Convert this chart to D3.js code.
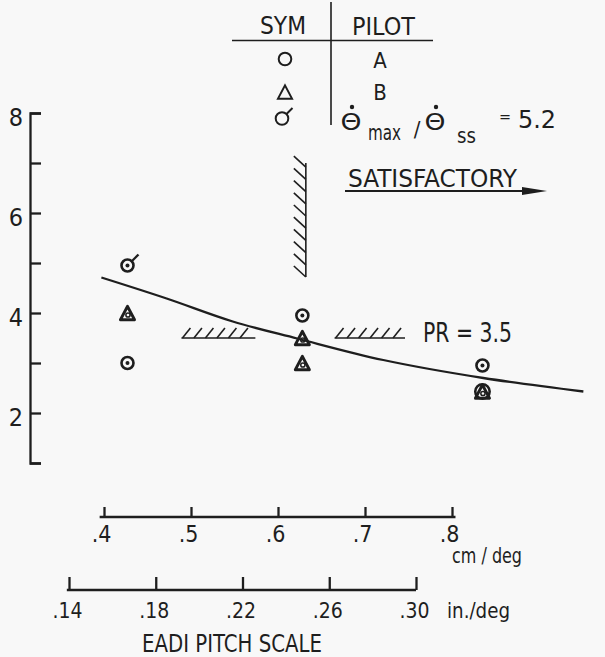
<!DOCTYPE html>
<html><head><meta charset="utf-8">
<script src="https://cdn.jsdelivr.net/npm/d3@7"></script>
<style>
html,body{margin:0;padding:0;background:#f8f8f8;}
svg{display:block;background:#f8f8f8;}
text{font-family:"DejaVu Sans Condensed","DejaVu Sans",sans-serif;font-stretch:condensed;fill:#1e1e1e;}
</style></head><body>
<svg id="c" width="605" height="657"></svg>
<script>
// ---- data ----
const yTicks = [1, 2, 3, 4, 5, 6, 7, 8];
const yTickLabels = ["", "2", "", "4", "", "6", "", "8"];
const cmTicks = [0.4, 0.5, 0.6, 0.7, 0.8];
const cmTickLabels = [".4", ".5", ".6", ".7", ".8"];
const inTicks = [0.14, 0.18, 0.22, 0.26, 0.30];
const inTickLabels = [".14", ".18", ".22", ".26", ".30"];
// pitch scale in cm/deg, pilot rating
const pilotAX = [0.427, 0.628, 0.835, 0.835];
const pilotAY = [3.0, 3.95, 2.95, 2.43];
const pilotBX = [0.427, 0.628, 0.628, 0.835];
const pilotBY = [4.0, 3.5, 3.0, 2.43];
const flaggedX = [0.427];
const flaggedY = [4.95];
const curveX = [0.397, 0.472, 0.548, 0.622, 0.721, 0.836, 0.951];
const curveY = [4.71, 4.29, 3.83, 3.49, 3.06, 2.70, 2.43];
const prLevel = 3.5;
const prSegStart = [0.489, 0.665];
const prSegEnd = [0.574, 0.746];
const satBoundX = 0.632;
const satBoundY = [4.72, 7.0];

// ---- drawing ----
const ink = "#1e1e1e";
const svg = d3.select("#c");
const x = d3.scaleLinear().domain([0.4, 0.8]).range([104, 452]);
const xin = d3.scaleLinear().domain([0.14, 0.30]).range([69, 416]);
const y = d3.scaleLinear().domain([1, 8]).range([463, 113]);

function txt(px, py, s, size, anchor, len) {
  const t = svg.append("text").attr("x", px).attr("y", py).attr("font-size", size)
    .attr("text-anchor", anchor || "start").text(s);
  if (len) t.attr("textLength", len).attr("lengthAdjust", "spacingAndGlyphs");
  return t;
}
function styleAxis(g, size) {
  g.attr("font-family", null).attr("font-size", size);
  g.selectAll("path,line").attr("stroke", ink).attr("stroke-width", 2.3);
  g.selectAll("text").attr("fill", ink);
}

// Y axis
const gy = svg.append("g").attr("transform", "translate(30,0)")
  .call(d3.axisLeft(y).tickValues(yTicks).tickFormat((d, i) => yTickLabels[i])
    .tickSizeInner(-11).tickSizeOuter(-11).tickPadding(7));
styleAxis(gy, 25);
gy.selectAll("text").attr("dy", null).attr("y", 12);

// cm/deg axis
const gx = svg.append("g").attr("transform", "translate(0,517)")
  .call(d3.axisBottom(x).tickValues(cmTicks).tickFormat((d, i) => cmTickLabels[i])
    .tickSizeInner(-10).tickSizeOuter(0));
styleAxis(gx, 23);
gx.select(".domain").attr("d", `M${x(0.395)},0H${x(0.804)}`);
gx.selectAll("text").attr("dy", null).attr("y", 25).attr("dx", -3);

// in/deg axis
const gi = svg.append("g").attr("transform", "translate(0,590)")
  .call(d3.axisBottom(xin).tickValues(inTicks).tickFormat((d, i) => inTickLabels[i])
    .tickSizeInner(-13).tickSizeOuter(0));
styleAxis(gi, 21);
gi.select(".domain").attr("d", `M${xin(0.139)},0H${xin(0.30)}`);
gi.selectAll("text").attr("dy", null).attr("y", 28).attr("dx", -2);

// axis titles
txt(452, 563, "cm / deg", 21, "start", 70);
txt(447, 618, "in./deg", 22, "start", 63);
txt(142, 652, "EADI PITCH SCALE", 25, "start", 180);

// fitted curve
const line = d3.line().x(i => x(curveX[i])).y(i => y(curveY[i])).curve(d3.curveCatmullRom.alpha(0.5));
svg.append("path").attr("d", line(d3.range(curveX.length)))
  .attr("fill", "none").attr("stroke", ink).attr("stroke-width", 2.3);

// PR = 3.5 hatched boundaries
const hatch = svg.append("g").attr("stroke", ink).attr("stroke-width", 1.6).attr("fill", "none");
prSegStart.forEach((s, k) => {
  const x0 = x(s), x1 = x(prSegEnd[k]), yy = y(prLevel);
  hatch.append("line").attr("x1", x0).attr("x2", x1).attr("y1", yy).attr("y2", yy);
  for (let hx = x0 + 1; hx <= x1 - 4; hx += 11.5) {
    hatch.append("line").attr("x1", hx).attr("y1", yy).attr("x2", hx + 8).attr("y2", yy - 10);
  }
});
txt(423, 342, "PR = 3.5", 27, "start", 89);

// vertical "satisfactory" boundary
{
  const vx = x(satBoundX), ya = y(satBoundY[1]), yb = y(satBoundY[0]);
  hatch.append("line").attr("x1", vx).attr("x2", vx).attr("y1", ya).attr("y2", yb);
  for (let hy = yb; hy >= ya - 1; hy -= 12.2) {
    hatch.append("line").attr("x1", vx).attr("y1", hy).attr("x2", vx - 12).attr("y2", hy - 11);
  }
}

// markers
function tri(cx, cy, s) {
  const h = s * 0.95;
  return `M${cx},${cy - h / 2}L${cx + s / 2},${cy + h / 2}L${cx - s / 2},${cy + h / 2}Z`;
}
const mk = svg.append("g").attr("stroke", ink).attr("fill", "none");
pilotAX.forEach((vx, i) => {
  const cx = x(vx), cy = y(pilotAY[i]);
  mk.append("circle").attr("cx", cx).attr("cy", cy).attr("r", i === 3 ? 7.2 : 6).attr("stroke-width", 2.6);
  if (i !== 3) mk.append("circle").attr("cx", cx).attr("cy", cy).attr("r", 2).attr("fill", ink).attr("stroke", "none");
});
pilotBX.forEach((vx, i) => {
  const cx = x(vx), cy = y(pilotBY[i]);
  mk.append("path").attr("d", tri(cx, cy, 14)).attr("stroke-width", 3).attr("stroke-linejoin", "round");
  mk.append("circle").attr("cx", cx + 0.5).attr("cy", cy + 2).attr("r", 2.1).attr("stroke-width", 1.5);
});
flaggedX.forEach((vx, i) => {
  const cx = x(vx), cy = y(flaggedY[i]);
  mk.append("circle").attr("cx", cx).attr("cy", cy).attr("r", 6).attr("stroke-width", 2.6);
  mk.append("circle").attr("cx", cx).attr("cy", cy).attr("r", 2).attr("fill", ink).attr("stroke", "none");
  mk.append("line").attr("x1", cx + 4.3).attr("y1", cy - 4.3).attr("x2", cx + 11).attr("y2", cy - 11).attr("stroke-width", 2.3);
});

// legend table
const lg = svg.append("g").attr("stroke", ink).attr("fill", "none").attr("stroke-width", 1.6);
lg.append("line").attr("x1", 232).attr("x2", 433).attr("y1", 40.5).attr("y2", 40.5);
lg.append("line").attr("x1", 331).attr("x2", 331).attr("y1", 2).attr("y2", 125);
txt(260, 34, "SYM", 24, "start", 46);
txt(352, 35, "PILOT", 24, "start", 63);
lg.append("circle").attr("cx", 285).attr("cy", 59).attr("r", 6.3).attr("stroke-width", 2);
txt(380, 68, "A", 22, "middle");
lg.append("path").attr("d", tri(285, 92, 14)).attr("stroke-width", 2);
txt(380, 100, "B", 22, "middle");
lg.append("circle").attr("cx", 282).attr("cy", 118.5).attr("r", 6.3).attr("stroke-width", 2);
lg.append("line").attr("x1", 286.5).attr("y1", 114).attr("x2", 292.5).attr("y2", 108).attr("stroke-width", 2);

// theta-dot ratio
txt(351, 130, "Θ", 23, "middle", 21);
svg.append("circle").attr("cx", 352).attr("cy", 107).attr("r", 2.2).attr("fill", ink);
txt(368, 140, "max", 22, "start", 33);
txt(417, 137, "/", 22, "middle");
txt(435, 130, "Θ", 23, "middle", 21);
svg.append("circle").attr("cx", 436).attr("cy", 107).attr("r", 2.2).attr("fill", ink);
txt(457, 143, "ss", 22, "start", 19);
txt(505, 122, "=", 16, "middle");
txt(518, 128, "5.2", 25, "start", 38);

// satisfactory arrow
txt(348, 187, "SATISFACTORY", 25, "start", 169);
svg.append("line").attr("x1", 345).attr("x2", 525).attr("y1", 191).attr("y2", 191)
  .attr("stroke", ink).attr("stroke-width", 1.8);
svg.append("path").attr("d", "M522,187L547,191L522,195Z").attr("fill", ink);
</script>
</body></html>
